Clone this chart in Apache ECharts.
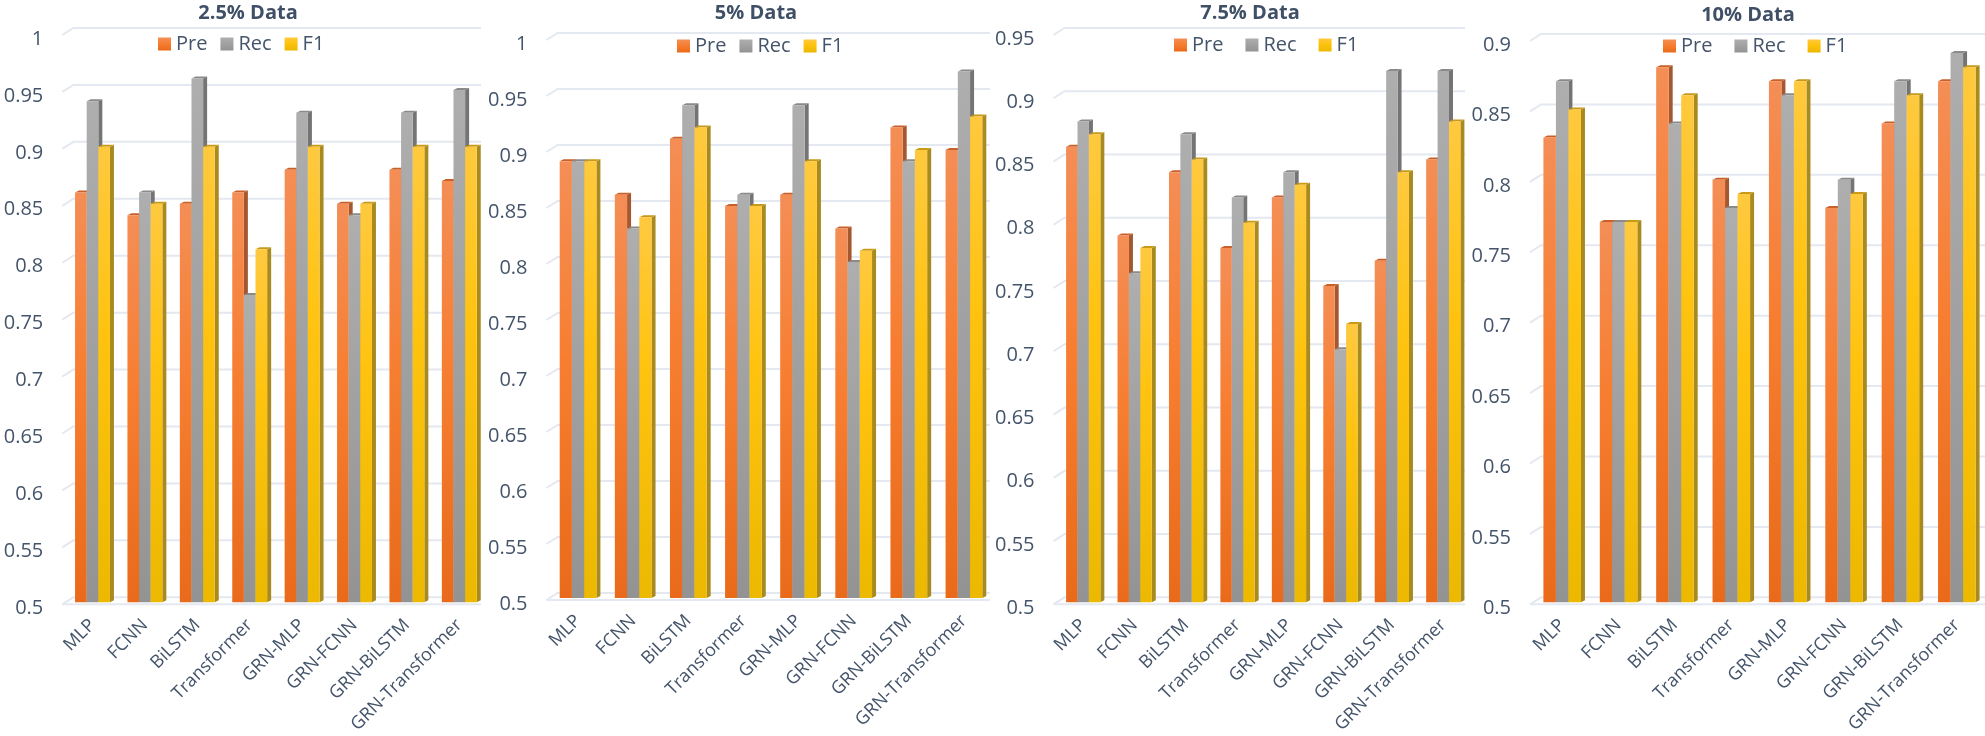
<!DOCTYPE html>
<html>
<head>
<meta charset="utf-8">
<style>
	html, body { margin: 0; padding: 0; background: #fff; }
	#main { width: 1985px; height: 736px; }
</style>
<script src="https://cdn.jsdelivr.net/npm/echarts@6/dist/echarts.min.js"></script>
</head>
<body>
<div id="main"></div>
<script>
	var categories = ['MLP', 'FCNN', 'BiLSTM', 'Transformer', 'GRN-MLP', 'GRN-FCNN', 'GRN-BiLSTM', 'GRN-Transformer'];
	var metrics = ['Pre', 'Rec', 'F1'];
	var titles = ['2.5% Data', '5% Data', '7.5% Data', '10% Data'];

	var pre25 = [0.86, 0.84, 0.85, 0.86, 0.88, 0.85, 0.88, 0.87];
	var rec25 = [0.94, 0.86, 0.96, 0.77, 0.93, 0.84, 0.93, 0.95];
	var f125 = [0.90, 0.85, 0.90, 0.81, 0.90, 0.85, 0.90, 0.90];

	var pre5 = [0.89, 0.86, 0.91, 0.85, 0.86, 0.83, 0.92, 0.90];
	var rec5 = [0.89, 0.83, 0.94, 0.86, 0.94, 0.80, 0.89, 0.97];
	var f15 = [0.89, 0.84, 0.92, 0.85, 0.89, 0.81, 0.90, 0.93];

	var pre75 = [0.86, 0.79, 0.84, 0.78, 0.82, 0.75, 0.77, 0.85];
	var rec75 = [0.88, 0.76, 0.87, 0.82, 0.84, 0.70, 0.92, 0.92];
	var f175 = [0.87, 0.78, 0.85, 0.80, 0.83, 0.72, 0.84, 0.88];

	var pre10 = [0.83, 0.77, 0.88, 0.80, 0.87, 0.78, 0.84, 0.87];
	var rec10 = [0.87, 0.77, 0.84, 0.78, 0.86, 0.80, 0.87, 0.89];
	var f110 = [0.85, 0.77, 0.86, 0.79, 0.87, 0.79, 0.86, 0.88];

	var ticks100 = [0.5, 0.55, 0.6, 0.65, 0.7, 0.75, 0.8, 0.85, 0.9, 0.95, 1];
	var ticks95 = [0.5, 0.55, 0.6, 0.65, 0.7, 0.75, 0.8, 0.85, 0.9, 0.95];
	var ticks90 = [0.5, 0.55, 0.6, 0.65, 0.7, 0.75, 0.8, 0.85, 0.9];

	var panelValues = [[pre25, rec25, f125], [pre5, rec5, f15], [pre75, rec75, f175], [pre10, rec10, f110]];
	var panelTicks = [ticks100, ticks100, ticks95, ticks90];

	// pixel layout of each panel, measured on the reference
	var panels = [
		{ left: 66.3, width: 419.2, top: 33, bottom: 603, wallEnd: 481, titleX: 248, titleY: 13, legendX: 158, legendY: 46, gap: 13 },
		{ left: 550.5, width: 441, top: 38, bottom: 598, wallEnd: 990, titleX: 756, titleY: 13, legendX: 677, legendY: 48, gap: 13 },
		{ left: 1057.5, width: 411.5, top: 33, bottom: 603, wallEnd: 1465, titleX: 1250, titleY: 13, legendX: 1174, legendY: 47, gap: 22 },
		{ left: 1534, width: 456, top: 39, bottom: 603, wallEnd: 1985, titleX: 1748, titleY: 15, legendX: 1663, legendY: 48, gap: 22 }
	];

	var textColor = '#44546a';
	var wallColor = '#e4e8f0';
	var barRatio = 0.222;
	var depth = 4, rise = 2;

	var barStyles = [
		{ stops: [[0, '#f48e56'], [0.45, '#f77e31'], [1, '#e96a1a']], side: '#a5582f', cap: '#c9602a' },
		{ stops: [[0, '#aeaeae'], [1, '#939393']], side: '#747474', cap: '#8a8a8a' },
		{ stops: [[0, '#ffc93f'], [0.4, '#ffc30f'], [1, '#ecb800']], side: '#a98a1e', cap: '#c89a18' }
	];

	function gradient(stops) {
		return new echarts.graphic.LinearGradient(0, 0, 0, 1, stops.map(function (s) {
			return { offset: s[0], color: s[1] };
		}));
	}

	// one 3D looking bar: front face, top cap and right side
	function renderBar(metricIndex) {
		var look = barStyles[metricIndex];
		return function (params, api) {
			var cat = api.value(0);
			var point = api.coord([cat, api.value(1)]);
			var base = api.coord([cat, 0.5])[1];
			var w = api.size([1, 0])[0] * barRatio;
			var x = point[0] + (metricIndex - 1.5) * w;
			var top = point[1];
			return {
				type: 'group',
				children: [
					{
						type: 'polygon',
						shape: { points: [[x + w, top], [x + w + depth, top - rise], [x + w + depth, base - rise], [x + w, base]] },
						style: { fill: look.side }
					},
					{
						type: 'polygon',
						shape: { points: [[x, top], [x + depth, top - rise], [x + w + depth, top - rise], [x + w, top]] },
						style: { fill: look.cap }
					},
					{
						type: 'rect',
						shape: { x: x, y: top, width: w, height: base - top },
						style: { fill: gradient(look.stops) }
					}
				]
			};
		};
	}

	// gridline on the back wall, with the short slant on the left side wall
	function renderWall(panel) {
		return function (params, api) {
			var y = api.coord([0, api.value(1)])[1];
			var line = {
				type: 'polyline',
				shape: { points: [[panel.left - 4, y + 2], [panel.left + 7, y - 5], [panel.wallEnd, y - 5]] },
				style: { stroke: wallColor, lineWidth: 2, fill: null }
			};
			if (api.value(1) !== 0.5) {
				return line;
			}
			return {
				type: 'group',
				children: [line, {
					type: 'line',
					shape: { x1: panel.left - 4, y1: y + 2, x2: panel.wallEnd, y2: y + 2 },
					style: { stroke: wallColor, lineWidth: 2 }
				}]
			};
		};
	}

	var title = [], legend = [], grid = [], xAxis = [], yAxis = [], series = [];

	panels.forEach(function (panel, p) {
		var ticks = panelTicks[p];
		title.push({
			text: titles[p],
			left: panel.titleX,
			top: panel.titleY,
			textAlign: 'center',
			textVerticalAlign: 'middle',
			padding: 0,
			textStyle: { color: '#3f4f66', fontFamily: 'Open Sans', fontSize: 20, fontWeight: 'bold' }
		});
		legend.push({
			data: metrics,
			left: panel.legendX,
			top: panel.legendY - 12,
			padding: 0,
			icon: 'rect',
			itemWidth: 13,
			itemHeight: 13,
			itemGap: panel.gap,
			selectedMode: false,
			textStyle: { color: textColor, fontFamily: 'Open Sans', fontSize: 20 }
		});
		grid.push({ left: panel.left, width: panel.width, top: panel.top, height: panel.bottom - panel.top });
		xAxis.push({
			type: 'category',
			gridIndex: p,
			data: categories,
			axisLine: { show: false },
			axisTick: { show: false },
			axisLabel: { interval: 0, rotate: 45, margin: 20, color: textColor, fontFamily: 'Open Sans', fontSize: 18 }
		});
		yAxis.push({
			type: 'value',
			gridIndex: p,
			min: ticks[0],
			max: ticks[ticks.length - 1],
			interval: 0.05,
			splitLine: { show: false },
			axisLine: { show: false },
			axisTick: { show: false },
			axisLabel: { margin: 23, verticalAlign: 'top', lineHeight: 12, color: textColor, fontFamily: 'Open Sans', fontSize: 20 }
		});
		series.push({
			type: 'custom',
			xAxisIndex: p,
			yAxisIndex: p,
			silent: true,
			z: 1,
			encode: { x: 0, y: 1 },
			data: ticks.map(function (t) { return [0, t]; }),
			renderItem: renderWall(panel)
		});
		metrics.forEach(function (name, m) {
			series.push({
				name: name,
				type: 'custom',
				xAxisIndex: p,
				yAxisIndex: p,
				z: 2 + m,
				itemStyle: { color: gradient(barStyles[m].stops) },
				encode: { x: 0, y: 1 },
				data: panelValues[p][m].map(function (v, i) { return [i, v]; }),
				renderItem: renderBar(m)
			});
		});
	});

	var myChart = echarts.init(document.getElementById('main'));
	var option = {
		animation: false,
		backgroundColor: '#fff',
		title: title,
		legend: legend,
		grid: grid,
		xAxis: xAxis,
		yAxis: yAxis,
		series: series
	};
	myChart.setOption(option);
</script>
</body>
</html>
